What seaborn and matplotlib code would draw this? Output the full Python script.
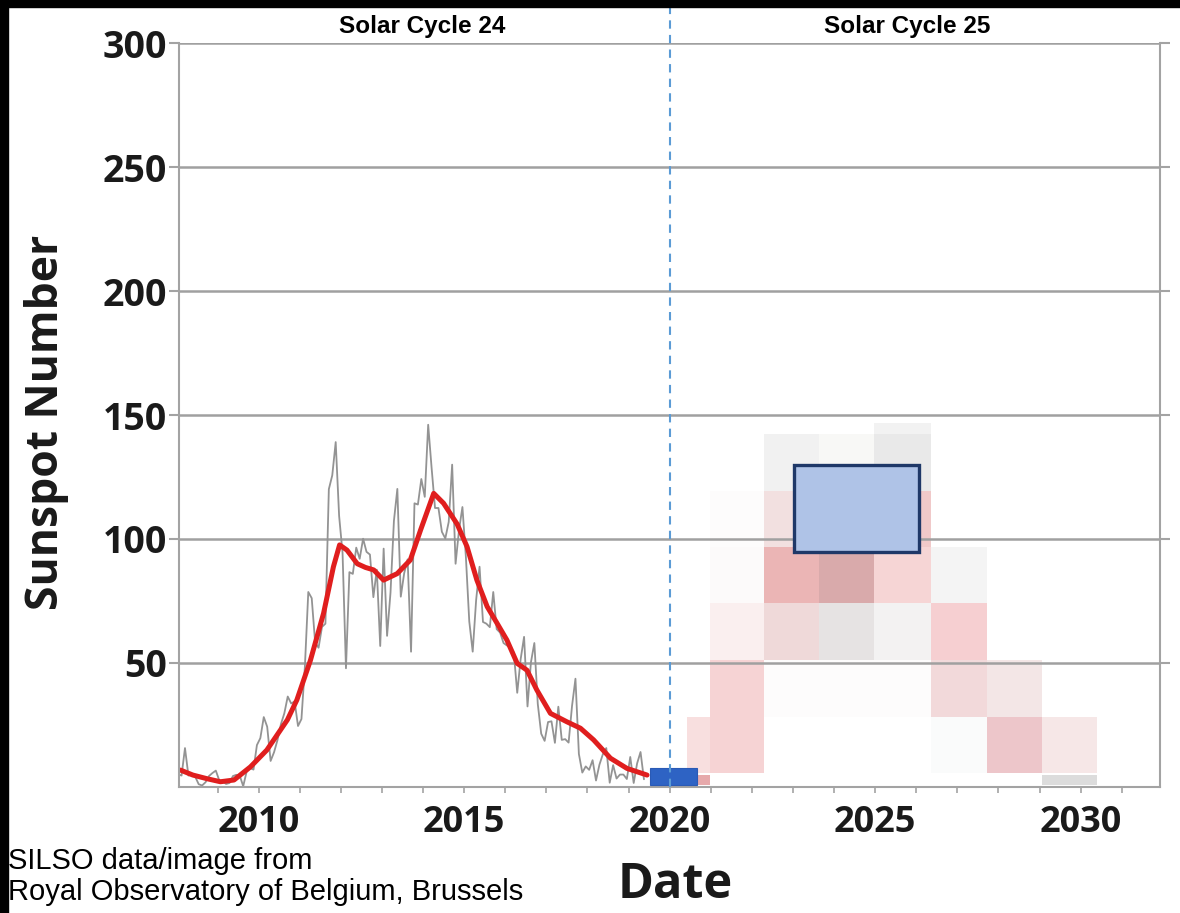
import numpy as np
import pandas as pd
import matplotlib
matplotlib.use("Agg")
import matplotlib.pyplot as plt
from matplotlib.patches import Rectangle
import seaborn as sns

# ---------------------------------------------------------------- data
# Monthly mean sunspot number, Jan 2008 onward
monthly_ssn = [
    5.0, 4.5, 15.6, 4.5, 4.9, 4.0, 1.0, 0.5, 1.8, 4.3, 5.5, 6.5,            # 2008
    2.6, 2.1, 1.1, 1.5, 4.3, 4.8, 4.4, 0.2, 6.1, 7.5, 6.9, 16.8,            # 2009
    19.6, 28.1, 24.2, 10.4, 13.9, 18.8, 25.2, 29.6, 36.4, 33.6, 34.4, 24.5,  # 2010
    27.3, 48.3, 78.6, 76.1, 58.2, 56.1, 64.5, 65.8, 120.1, 125.7, 139.1, 109.3,  # 2011
    94.4, 47.8, 86.6, 85.9, 96.5, 92.0, 100.1, 94.8, 93.7, 76.5, 87.6, 56.8,  # 2012
    96.1, 60.9, 78.3, 107.3, 120.2, 76.7, 86.2, 91.8, 54.5, 114.4, 113.9, 124.2,  # 2013
    117.0, 146.1, 128.7, 112.5, 112.5, 102.9, 100.2, 106.9, 130.0, 90.0, 103.6, 112.9,  # 2014
    93.0, 66.7, 54.5, 75.3, 88.8, 66.5, 65.8, 64.4, 78.6, 63.6, 62.2, 58.0,  # 2015
    57.0, 56.4, 54.1, 37.9, 51.5, 60.5, 32.4, 50.2, 58.0, 33.4, 21.4, 18.5,  # 2016
    26.1, 26.4, 17.7, 32.3, 18.9, 19.2, 17.8, 32.6, 43.6, 13.2, 5.7, 8.2,    # 2017
    6.8, 10.7, 2.5, 8.9, 13.1, 15.6, 1.6, 8.7, 3.3, 4.9, 4.9, 3.1,           # 2018
    12.0, 1.5, 9.4, 14.0, 3.0,                                               # 2019
]
monthly_start_year = 2008

# 13-month smoothed sunspot number
smoothed_year = [2008.10, 2008.40, 2008.75, 2009.07, 2009.40, 2009.80, 2010.20,
                 2010.70, 2010.93, 2011.26, 2011.58, 2011.82, 2011.97, 2012.15,
                 2012.40, 2012.60, 2012.80, 2013.04, 2013.37, 2013.69, 2013.94,
                 2014.26, 2014.50, 2014.83, 2015.07, 2015.31, 2015.56, 2015.80,
                 2016.04, 2016.29, 2016.53, 2016.77, 2017.10, 2017.50, 2017.83,
                 2018.15, 2018.56, 2018.96, 2019.45]
smoothed_ssn = [6.7, 4.7, 3.2, 2.0, 2.7, 8.0, 14.8,
                27.0, 35.0, 51.0, 70.0, 88.8, 97.6, 95.5,
                90.0, 88.5, 87.5, 83.4, 86.0, 91.5, 103.6,
                118.4, 114.4, 106.0, 96.9, 83.4, 72.7, 66.0,
                59.2, 49.8, 47.0, 39.0, 29.6, 26.2, 23.6,
                18.9, 11.5, 7.4, 4.7]

# Cycle 25 forecast probability cells: bin edges and shading per (row, column)
forecast_year_edges = [2020.42, 2020.99, 2022.29, 2023.63, 2024.96,
                       2026.36, 2027.72, 2029.06, 2030.40]
forecast_ssn_edges = [0.7, 4.7, 5.4, 28.3, 51.2, 74.0, 96.8, 119.4, 142.2, 146.8]
forecast_shade = [
    # rows from lowest sunspot bin upward, columns left to right
    ["#e6a9ab", None, None, None, None, None, None, "#dcdcdc"],
    [None, None, None, None, None, None, None, None],
    ["#f8dfdf", "#f6d3d4", None, None, None, "#fafbfb", "#edc6ca", "#f6e7e7"],
    [None, "#f6d3d4", "#fdfcfc", "#fdfcfc", "#fdfcfc", "#f2d9da", "#f3e6e6", None],
    [None, "#faefef", "#efd9d9", "#e6e3e3", "#f3f2f2", "#f6cfd1", None, None],
    [None, "#fcfafa", "#ebb5b5", "#d9aaab", "#f6d5d5", "#f4f4f4", None, None],
    [None, "#fdfcfc", "#f2e0e0", "#f0dede", "#f0c9c9", None, None, None],
    [None, None, "#f1f1f1", "#f8f8f6", "#e9e9e9", None, None, None],
    [None, None, None, None, "#f2f2f2", None, None, None],
]

# Predicted cycle 25 maximum (timing and amplitude range)
peak_year_range = (2023.02, 2026.06)
peak_ssn_range = (94.9, 129.9)

# Predicted solar minimum window
minimum_year_range = (2019.51, 2020.67)
minimum_ssn_range = (0.7, 7.4)

cycle_boundary_year = 2020.0
cycle_labels = ["Solar Cycle 24", "Solar Cycle 25"]
x_major_ticks = [2010, 2015, 2020, 2025, 2030]
y_major_ticks = [50, 100, 150, 200, 250, 300]

# ---------------------------------------------------------------- style
sns.set_theme(style="white")
plt.rcParams["font.family"] = ["Open Sans", "DejaVu Sans"]

W, H = 1180, 913
fig = plt.figure(figsize=(W / 100, H / 100), dpi=100)
fig.patch.set_facecolor("white")

ax_left, ax_right, ax_top, ax_bottom = 179.3, 1160.0, 43.5, 786.7
ax = fig.add_axes([ax_left / W, 1 - ax_bottom / H,
                   (ax_right - ax_left) / W, (ax_bottom - ax_top) / H])
ax.set_facecolor("white")

axis_grey = "#a3a3a3"

# forecast probability cells
for r in range(len(forecast_ssn_edges) - 1):
    for c in range(len(forecast_year_edges) - 1):
        shade = forecast_shade[r][c]
        if shade is None:
            continue
        x0, x1 = forecast_year_edges[c], forecast_year_edges[c + 1]
        y0, y1 = forecast_ssn_edges[r], forecast_ssn_edges[r + 1]
        ax.bar(x0, y1 - y0, width=x1 - x0, bottom=y0, align="edge",
               color=shade, linewidth=0, zorder=1)

# monthly and smoothed sunspot numbers
months = monthly_start_year + (np.arange(len(monthly_ssn)) + 0.5) / 12
monthly_df = pd.DataFrame({"year": months, "ssn": monthly_ssn})
smoothed_df = pd.DataFrame({"year": smoothed_year, "ssn": smoothed_ssn})

sns.lineplot(data=monthly_df, x="year", y="ssn", estimator=None, sort=False,
             color="#939393", linewidth=1.3, ax=ax, zorder=2)
sns.lineplot(data=smoothed_df, x="year", y="ssn", estimator=None, sort=False,
             color="#e01e1e", linewidth=3.6, ax=ax, zorder=2.5)

# predicted maximum box
ax.add_patch(Rectangle((peak_year_range[0], peak_ssn_range[0]),
                       peak_year_range[1] - peak_year_range[0],
                       peak_ssn_range[1] - peak_ssn_range[0],
                       facecolor="#afc3e7", edgecolor="#1f3868",
                       linewidth=2.4, zorder=3))

# predicted minimum window
ax.add_patch(Rectangle((minimum_year_range[0], minimum_ssn_range[0]),
                       minimum_year_range[1] - minimum_year_range[0],
                       minimum_ssn_range[1] - minimum_ssn_range[0],
                       facecolor="#2e63c4", edgecolor="#2a5ab5",
                       linewidth=0.8, zorder=3))

# boundary between the cycles, running up to the top of the figure
ext = 1 + (ax_top - 7) / (ax_bottom - ax_top)
ax.axvline(cycle_boundary_year, ymin=0, ymax=ext, color="#5b9bd5",
           linewidth=1.5, dashes=(4, 3), clip_on=False, zorder=4)

# axes limits, ticks, grid
ax.set_xlim(2008.07, 2031.93)
ax.set_ylim(0, 300)
ax.set_xticks(x_major_ticks)
ax.set_xticks(np.arange(2009, 2032), minor=True)
ax.set_yticks(y_major_ticks)
ax.set_xticklabels([str(t) for t in x_major_ticks])

ax.set_axisbelow("line")
ax.yaxis.grid(True, color="#a0a0a0", linewidth=1.8)
ax.xaxis.grid(False)

for side in ["left", "bottom", "right"]:
    ax.spines[side].set_visible(True)
    ax.spines[side].set_color(axis_grey)
    ax.spines[side].set_linewidth(1.5)
ax.spines["top"].set_visible(False)

ax.tick_params(axis="x", which="both", bottom=True, direction="out",
               length=4.5, width=1.2, color=axis_grey, pad=9,
               labelsize=26)
ax.tick_params(axis="y", which="major", left=True, right=True,
               labelright=False, direction="out", length=7, width=1.5,
               color=axis_grey, pad=2, labelsize=27)
for lab in ax.get_xticklabels() + ax.get_yticklabels():
    lab.set_fontweight("bold")
    lab.set_color("#1a1a1a")

ax.set_xlabel("")
ax.set_ylabel("")

# axis titles
fig.text(47 / W, 1 - 422 / H, "Sunspot Number", rotation=90, ha="center",
         va="center", fontsize=32, fontweight="bold", color="#1a1a1a")
fig.text(675 / W, 1 - 898 / H, "Date", ha="center", va="baseline",
         fontsize=35, fontweight="bold", color="#1a1a1a")

# cycle labels along the top
for label, xc in zip(cycle_labels, [422, 907]):
    fig.text(xc / W, 1 - 33 / H, label, ha="center", va="baseline",
             fontsize=17.5, fontweight="bold", color="black",
             family=["Liberation Sans", "DejaVu Sans"])

# credit
fig.text(8 / W, 1 - 869 / H, "SILSO data/image from", ha="left",
         va="baseline", fontsize=21, color="black",
         family=["Liberation Sans", "DejaVu Sans"])
fig.text(8 / W, 1 - 900 / H, "Royal Observatory of Belgium, Brussels",
         ha="left", va="baseline", fontsize=21, color="black",
         family=["Liberation Sans", "DejaVu Sans"])

# dark frame along the top and left edges
fig.add_artist(Rectangle((0, 1 - 7 / H), 1, 7 / H, transform=fig.transFigure,
                         color="black", zorder=10))
fig.add_artist(Rectangle((0, 0), 8 / W, 1, transform=fig.transFigure,
                         color="black", zorder=10))

fig.savefig("out.png", dpi=100)
